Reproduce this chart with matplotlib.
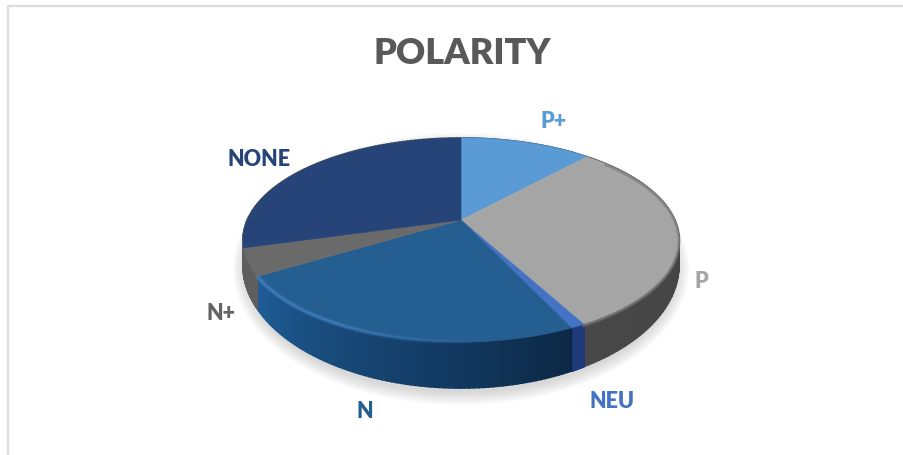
import numpy as np
import matplotlib
matplotlib.use("Agg")
import matplotlib.pyplot as plt
from matplotlib.colors import to_rgb

labels = ["P+", "P", "NEU", "N", "N+", "NONE"]
values = [11.8, 30.4, 0.9, 23.4, 4.3, 29.4]

top_colors = ["#5b9bd5", "#a5a5a5", "#4472c4", "#255e91", "#6a6a6a", "#264478"]
text_colors = ["#5b9bd5", "#a5a5a5", "#4472c4", "#255e91", "#636363", "#264478"]
wall_start = ["#3f6f9a", "#3e3e3e", "#1f3a7a", "#0c2846", "#5e5e5e", "#5e5e5e"]
wall_end = ["#3f6f9a", "#484848", "#1f3a7a", "#1f5c96", "#5e5e5e", "#5e5e5e"]
label_xy = [(554, 122), (701, 282), (612, 402), (365, 412), (221, 313), (259, 159)]

# pie geometry in pixels, the top is an ellipse seen in perspective
cx = 461
rx = 218
top_cy, top_ry = 240, 102
bot_cy, bot_ry = 265, 123
persp = 0.196


def project(a):
    # a = angle clockwise from the top of the real circle
    u, v = np.sin(a), np.cos(a)
    k = 1 + persp * v
    return u * np.sqrt(1 - persp**2) / k, (v + persp) / k


def mix(c1, c2, t):
    return tuple((1 - t) * np.array(to_rgb(c1)) + t * np.array(to_rgb(c2)))


fig = plt.figure(figsize=(9.04, 4.55), dpi=100)
ax = fig.add_axes([0, 0, 1, 1])
ax.set_xlim(0, 904)
ax.set_ylim(455, 0)
ax.axis("off")

# frame of the chart area
ax.plot([904, 8.5, 8.5], [5.5, 5.5, 455], color="#dcdcdc", lw=1.6, zorder=1)

# soft shadow below the pie
t = np.linspace(0, 2 * np.pi, 300)
for grow in np.arange(13, 0, -1.5):
    ax.fill(cx + (rx + grow - 3) * np.sin(t), bot_cy + 4 + (bot_ry + grow) * np.cos(t),
            color="#808080", alpha=0.035, lw=0, zorder=2)

edges = 2 * np.pi * np.concatenate([[0], np.cumsum(values)]) / np.sum(values)

# outer walls
for i in range(len(values)):
    a = np.linspace(edges[i], edges[i + 1], 80)
    u, v = project(a)
    x = cx + rx * u
    y_top = top_cy - top_ry * v
    y_bot = bot_cy - bot_ry * v
    for j in range(len(a) - 1):
        c = mix(wall_start[i], wall_end[i], j / (len(a) - 2))
        ax.fill([x[j], x[j + 1], x[j + 1], x[j]],
                [y_top[j], y_top[j + 1], y_bot[j + 1], y_bot[j]],
                color=c, lw=1.2, zorder=3)

# top faces
for i in range(len(values)):
    a = np.linspace(edges[i], edges[i + 1], 120)
    u, v = project(a)
    x = cx + rx * u
    y = top_cy - top_ry * v
    ax.fill(np.r_[cx, x], np.r_[top_cy - top_ry * persp, y],
            color=top_colors[i], lw=0.4, zorder=4)

# light rim on the front edge of N, fading out to the right
a = np.linspace(edges[3], edges[4], 120)
u, v = project(a)
x = cx + rx * u
y = top_cy - top_ry * v
for j in range(len(a) - 1):
    fade = np.clip((j / 118 - 0.2) / 0.45, 0, 1)
    for lw, al in [(4, 0.2), (2, 0.5)]:
        ax.plot(x[j:j + 2], y[j:j + 2], color="#4a8fd0", lw=lw, alpha=al * fade,
                solid_capstyle="butt", zorder=5)

# dark rim on P, where the face turns into the wall
a = np.linspace(edges[1], edges[2], 120)
u, v = project(a)
front = v < 0.75
ax.plot((cx + rx * u)[front], (top_cy - top_ry * v)[front] + 1, color="#7a7a7a", lw=2,
        alpha=0.7, zorder=5)

ax.text(462, 53, "POLARITY", fontsize=26, fontweight="heavy", family="Lato",
        color="#595959", ha="center", va="center", zorder=6)
for name, c, (lx, ly) in zip(labels, text_colors, label_xy):
    ax.text(lx, ly, name, fontsize=15.5, fontweight="heavy", family="Lato", color=c,
            ha="center", va="center", zorder=6)

fig.savefig("out.png", dpi=100)
